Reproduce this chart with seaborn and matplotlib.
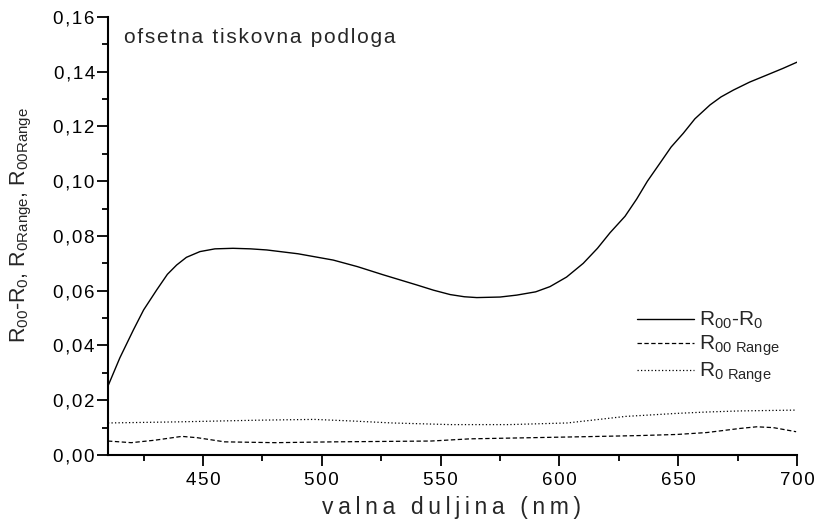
import matplotlib
matplotlib.use('Agg')
import matplotlib.pyplot as plt
from matplotlib.ticker import FuncFormatter, MultipleLocator
import seaborn as sns

# R00-R0 (puna linija)
wl_diff = [410, 415, 420.7, 425, 430.5, 435, 438.9, 443, 448.7, 455, 462.6, 470, 476.8,
           490, 504.8, 515, 525.9, 540, 547, 554, 560, 565.2, 575, 582, 590, 596, 603,
           610, 616, 621.3, 627.6, 632.5, 637, 642.3, 647, 652.1, 657, 663.4, 668, 673.2,
           680, 687.3, 694, 700]
val_diff = [0.0252, 0.0355, 0.0457, 0.0530, 0.0603, 0.0660, 0.0694, 0.0722, 0.0743, 0.0753,
            0.0755, 0.0753, 0.0749, 0.0735, 0.0712, 0.0688, 0.0658, 0.0621, 0.0602, 0.0586,
            0.0578, 0.0575, 0.0577, 0.0584, 0.0596, 0.0615, 0.0650, 0.0700, 0.0755, 0.0812,
            0.0872, 0.0935, 0.1000, 0.1066, 0.1125, 0.1175, 0.1228, 0.1279, 0.1308, 0.1333,
            0.1362, 0.1388, 0.1412, 0.1435]

# R00 Range (isprekidana)
wl_r00 = [410, 419.8, 429.7, 441.1, 447.7, 459.1, 480.4, 505, 546, 562.4, 587, 611.6,
          633.9, 649.4, 662, 676, 683, 690, 699.6]
val_r00 = [0.0051, 0.0045, 0.0054, 0.0068, 0.0063, 0.0048, 0.0045, 0.0048, 0.0051, 0.0059,
           0.0063, 0.0067, 0.0071, 0.0075, 0.0082, 0.0097, 0.0103, 0.0100, 0.0085]

# R0 Range (tockasta)
wl_r0 = [410, 439.5, 472.3, 496.8, 513.2, 529.6, 554.2, 578.8, 603.3, 627.9, 633.9,
         649.4, 662, 676, 699.6]
val_r0 = [0.0117, 0.0121, 0.0127, 0.0130, 0.0124, 0.0117, 0.0111, 0.0111, 0.0117, 0.0141,
          0.0144, 0.0152, 0.0157, 0.0161, 0.0164]

naslov = 'ofsetna tiskovna podloga'
x_oznaka = 'valna duljina (nm)'
y_oznaka = 'R$_{00}$-R$_0$, R$_{0Range}$, R$_{00Range}$'
legenda = ['R$_{00}$-R$_0$', 'R$_{00\\ Range}$', 'R$_{0\\ Range}$']


def razmak(s, sep='\u200a'):
    # rastegni tekst (mali razmak izmedu slova), kao u originalu
    return sep.join(s)


sns.set_theme(style='ticks')
plt.rcParams['font.family'] = ['Liberation Sans', 'DejaVu Sans']
plt.rcParams['mathtext.default'] = 'regular'

fig = plt.figure(figsize=(8.15, 5.29), dpi=100)
ax = fig.add_axes([0.1325, 0.1399, 0.8455, 0.828])

sns.lineplot(x=wl_diff, y=val_diff, ax=ax, color='black', linewidth=1.0, label=legenda[0])
sns.lineplot(x=wl_r00, y=val_r00, ax=ax, color='black', linewidth=0.9,
             linestyle=(0, (3.5, 2)), label=legenda[1])
sns.lineplot(x=wl_r0, y=val_r0, ax=ax, color='black', linewidth=0.9,
             linestyle=(0, (1, 1.8)), label=legenda[2])

ax.set_xlim(410, 700)
ax.set_ylim(0, 0.16)
ax.xaxis.set_major_locator(MultipleLocator(50))
ax.xaxis.set_minor_locator(MultipleLocator(25))
ax.yaxis.set_major_locator(MultipleLocator(0.02))
ax.yaxis.set_minor_locator(MultipleLocator(0.01))
ax.xaxis.set_major_formatter(FuncFormatter(lambda v, p: razmak(f'{v:.0f}')))
ax.yaxis.set_major_formatter(FuncFormatter(lambda v, p: razmak(f'{v:.2f}'.replace('.', ','))))

for s in ['top', 'right']:
    ax.spines[s].set_visible(False)
for s in ['left', 'bottom']:
    ax.spines[s].set_linewidth(1.5)
    ax.spines[s].set_color('black')

ax.tick_params(which='major', direction='out', length=8, width=1.3, labelsize=13.5,
               colors='black')
ax.tick_params(axis='x', which='major', pad=4)
ax.tick_params(axis='y', which='major', pad=1.5)
ax.tick_params(which='minor', direction='out', length=4.5, width=1.3, colors='black')

ax.set_xlabel(razmak(x_oznaka, '\u2009'), fontsize=16.5)
ax.set_ylabel(y_oznaka, fontsize=15.5)
ax.xaxis.set_label_coords(0.498, -0.094)
ax.yaxis.set_label_coords(-0.107, 0.525)

ax.text(0.023, 0.975, razmak(naslov), transform=ax.transAxes, fontsize=15,
        va='top', ha='left')

ax.legend(loc='center left', bbox_to_anchor=(0.755, 0.245), frameon=False,
          fontsize=15, handlelength=2.75, handletextpad=0.25, labelspacing=0.12,
          borderaxespad=0)

fig.savefig('out.png', dpi=100)
plt.close(fig)
